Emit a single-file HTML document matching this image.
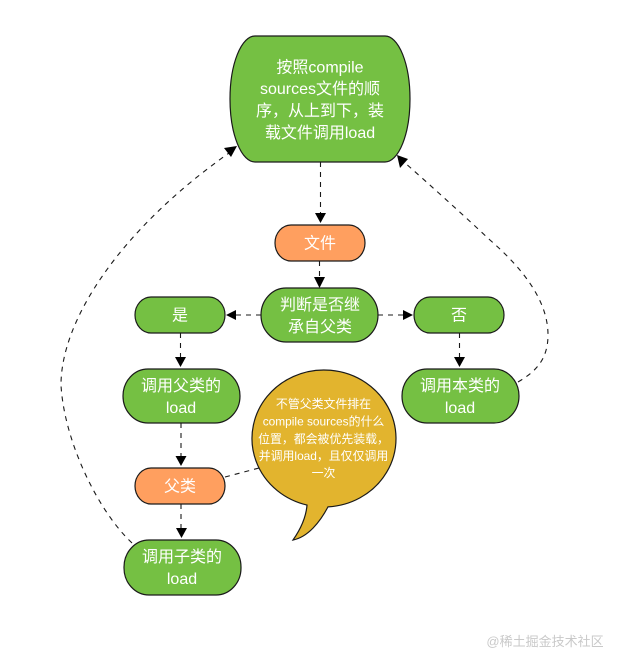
<!DOCTYPE html>
<html>
<head>
<meta charset="utf-8">
<style>
html,body{margin:0;padding:0;background:#fff;width:621px;height:666px;overflow:hidden}
svg{display:block;filter:blur(0.35px)}
text{font-family:"Liberation Sans","Noto Sans CJK SC",sans-serif;fill:#fff;text-anchor:middle;font-size:16px}
.n{stroke:#1a1a1a;stroke-width:1.2}
.g{fill:#75c043}
.o{fill:#ff9f5f}
.c{fill:none;stroke:#1a1a1a;stroke-width:1.1;stroke-dasharray:5 5}
.a{fill:#000;stroke:none}
.b text{font-size:11.9px}
</style>
</head>
<body>
<svg width="621" height="666" viewBox="0 0 621 666" xmlns="http://www.w3.org/2000/svg">
<rect width="621" height="666" fill="#fff"/>

<!-- curved connectors -->
<path class="c" d="M132,543 C97,510 64,440 61,385 C61,320 120,230 229,153"/>
<path class="c" d="M518,382 C535,372 548,360 548,335 C548,300 522,268 490,240 C460,212 430,185 404,162"/>
<path class="c" d="M225,477 L259,468"/>

<!-- straight connectors -->
<path class="c" d="M320.500,162 V214"/>
<path class="c" d="M319.500,261 V278"/>
<path class="c" d="M261,315 H236"/>
<path class="c" d="M378,315 H404"/>
<path class="c" d="M180.500,333 V358"/>
<path class="c" d="M459.500,333 V358"/>
<path class="c" d="M181,423 V458"/>
<path class="c" d="M181,504 V530"/>

<!-- arrowheads -->
<path class="a" d="M320.500,223 L315,213 L326,213 Z"/>
<path class="a" d="M319.500,288 L314,277 L325,277 Z"/>
<path class="a" d="M226,315 L236,310 L236,320 Z"/>
<path class="a" d="M413,315 L403,310 L403,320 Z"/>
<path class="a" d="M180.500,367 L175,357 L186,357 Z"/>
<path class="a" d="M459.500,367 L454,357 L465,357 Z"/>
<path class="a" d="M181,466 L175.500,456 L186.500,456 Z"/>
<path class="a" d="M181.500,538 L176,528 L187,528 Z"/>
<path class="a" d="M237,146 L231,157 L224,148 Z"/>
<path class="a" d="M397,155 L408,159 L400,168 Z"/>

<!-- nodes -->
<path class="n g" d="M255,36 H385 A25,63 0 0 1 385,162 H255 A25,63 0 0 1 255,36 Z"/>
<rect class="n o" x="275" y="225" width="90" height="36" rx="16" ry="18"/>
<rect class="n g" x="261" y="288" width="117" height="54" rx="25" ry="27"/>
<rect class="n g" x="135" y="297" width="90" height="36" rx="16" ry="18"/>
<rect class="n g" x="414" y="297" width="90" height="36" rx="16" ry="18"/>
<rect class="n g" x="123" y="369" width="117" height="54" rx="25" ry="27"/>
<rect class="n g" x="402" y="369" width="117" height="54" rx="25" ry="27"/>
<rect class="n o" x="135" y="468" width="90" height="36" rx="16" ry="18"/>
<rect class="n g" x="124" y="540" width="117" height="55" rx="25" ry="27"/>

<!-- callout -->
<path class="n" fill="#e2b42e" d="M307,505.060 A72,68.500 0 1 1 328,506.890 C320,522 308,537 293,540 C300,530 306,518 307,505.060 Z"/>

<!-- labels -->
<text x="320" y="72.500">按照compile</text>
<text x="320" y="94">sources文件的顺</text>
<text x="320" y="116">序，从上到下，装</text>
<text x="320" y="138">载文件调用load</text>
<text x="320" y="248.500">文件</text>
<text x="320" y="310">判断是否继</text>
<text x="320" y="332">承自父类</text>
<text x="180" y="320.500">是</text>
<text x="459" y="320.500">否</text>
<text x="181" y="391">调用父类的</text>
<text x="181" y="413">load</text>
<text x="460" y="391">调用本类的</text>
<text x="460" y="413">load</text>
<text x="180" y="491.500">父类</text>
<text x="182" y="562">调用子类的</text>
<text x="182" y="584">load</text>

<g class="b">
<text x="323.500" y="408">不管父类文件排在</text>
<text x="323.500" y="425.500">compile sources的什么</text>
<text x="323.500" y="443">位置，都会被优先装载，</text>
<text x="323.500" y="460">并调用load，且仅仅调用</text>
<text x="323.500" y="477">一次</text>
</g>

<!-- watermark -->
<text x="545" y="646" style="font-size:13px;fill:#c9c9c9">@稀土掘金技术社区</text>
</svg>
</body>
</html>
